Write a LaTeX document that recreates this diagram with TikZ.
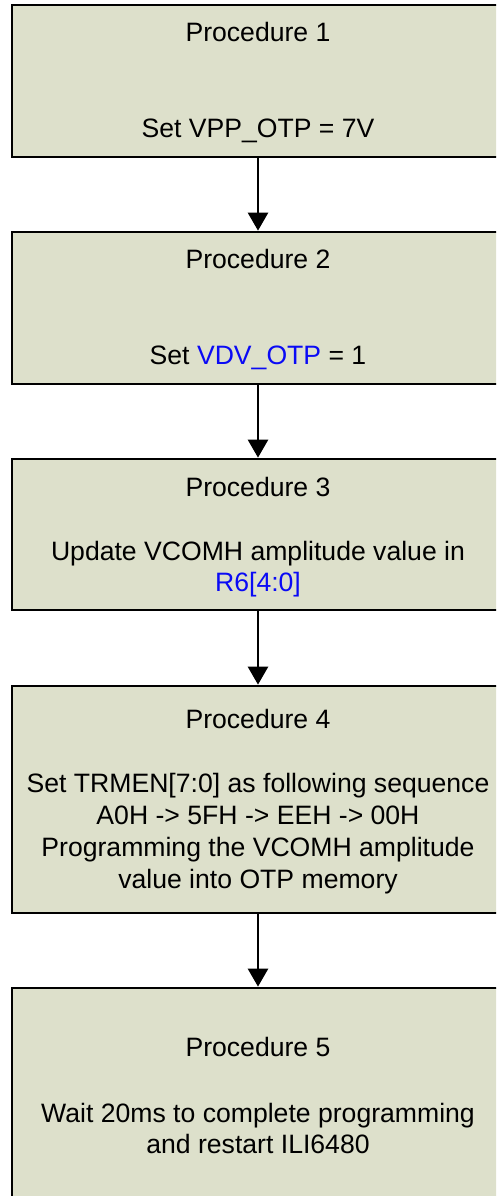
\documentclass[tikz,border=0pt]{standalone}
\usepackage{fontspec}
\setmainfont{Liberation Sans}
\usetikzlibrary{arrows.meta}
\definecolor{boxfill}{RGB}{221,224,203}
\definecolor{hl}{RGB}{10,10,245}
\begin{document}
\begin{tikzpicture}[x=1pt,y=-1pt,
  procbox/.style={rectangle, draw=black, line width=2.7pt, fill=boxfill, minimum width=492pt, inner sep=0pt},
  txt/.style={anchor=base, inner sep=0pt, font=\fontsize{26.6}{32}\selectfont},
  flow/.style={line width=2.6pt, -{Triangle[length=18pt,width=20pt]}}]
\useasboundingbox (0,0) rectangle (496,1196);
\clip (0,0) rectangle (496,1196);
% boxes
\node[procbox, minimum height=152pt] (b1) at (258,81) {};
\node[procbox, minimum height=152pt] (b2) at (258,308) {};
\node[procbox, minimum height=151pt] (b3) at (258,534.5) {};
\node[procbox, minimum height=227pt] (b4) at (258,799.5) {};
\node[procbox, minimum height=218pt] (b5) at (258,1097) {};
% connectors
\draw[flow] (b1.south) -- (b2.north);
\draw[flow] (b2.south) -- (b3.north);
\draw[flow] (b3.south) -- (b4.north);
\draw[flow] (b4.south) -- (b5.north);
% texts
\node[txt] (t1a) at (258,42) {Procedure 1};
\node[txt] (t1b) at (258,138) {Set VPP\_OTP = 7V};
\node[txt] (t2a) at (258,268) {Procedure 2};
\node[txt] (t2b) at (258,364) {Set \textcolor{hl}{VDV\_OTP} = 1};
\node[txt] (t3a) at (258,496) {Procedure 3};
\node[txt] (t3b) at (258,560) {Update VCOMH amplitude value in};
\node[txt] (t3c) at (258,591) {\textcolor{hl}{R6[4:0]}};
\node[txt] (t4a) at (258,728) {Procedure 4};
\node[txt] (t4b) at (258,792) {Set TRMEN[7:0] as following sequence};
\node[txt] (t4c) at (258,824) {A0H -> 5FH -> EEH -> 00H};
\node[txt] (t4d) at (258,856) {Programming the VCOMH amplitude};
\node[txt] (t4e) at (258,888) {value into OTP memory};
\node[txt] (t5a) at (258,1056) {Procedure 5};
\node[txt] (t5b) at (258,1122) {Wait 20ms to complete programming};
\node[txt] (t5c) at (258,1153) {and restart ILI6480};
\end{tikzpicture}
\end{document}
